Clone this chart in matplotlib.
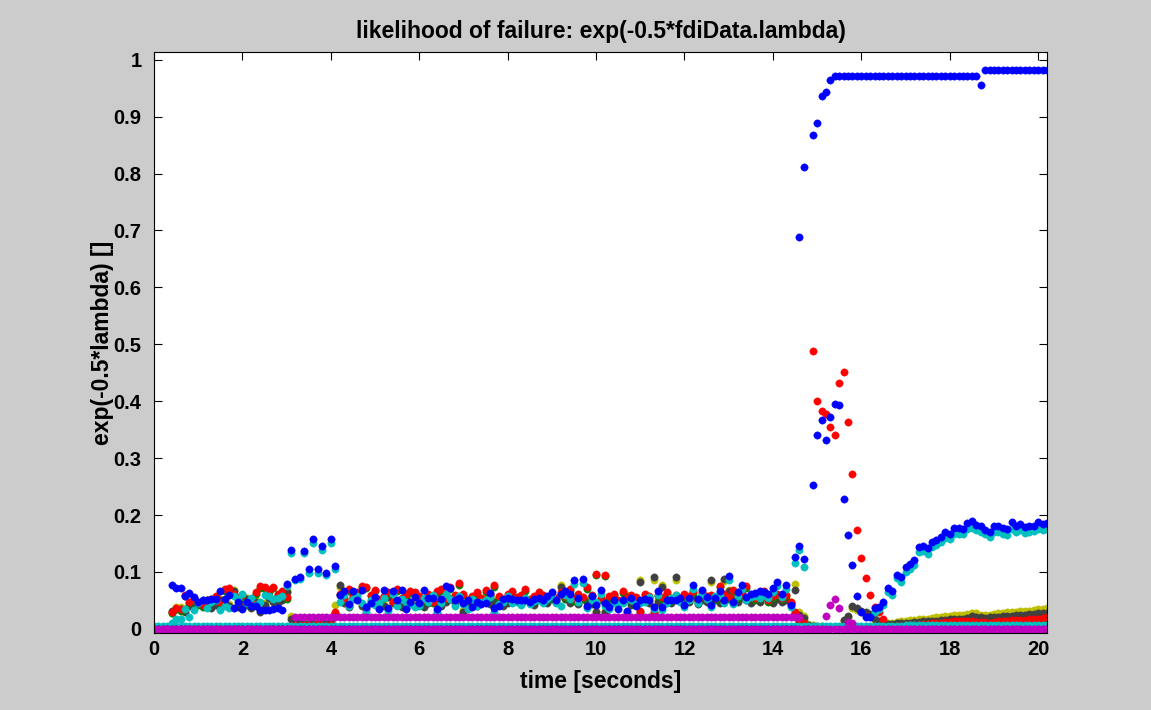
#!/usr/bin/env python3
"""
Likelihood of failure plot: exp(-0.5*lambda) for each FDI channel vs time.
Values read off the reference figure, stored in thousandths (0.077 -> 77).
"""

import numpy as np
import matplotlib
matplotlib.use("Agg")
import matplotlib.pyplot as plt

# === Data ===
# samples every 0.1 s from 0 to 20.2 s (203 samples)
N_SAMPLES = 203
SAMPLE_DT = 0.1

# top channel (goes to ~0.97 after the fault)
blue_top = [
    0, 0, 0, 0, 0, 0, 0, 0, 0, 0, 0, 0, 0, 0, 0, 0, 0, 0, 0, 0,
    0, 0, 0, 0, 0, 0, 0, 0, 0, 0, 0, 0, 0, 0, 0, 0, 0, 0, 0, 0,
    0, 0, 0, 0, 0, 0, 0, 0, 0, 0, 0, 0, 0, 0, 0, 0, 0, 0, 0, 0,
    0, 0, 0, 0, 0, 0, 0, 0, 0, 0, 0, 0, 0, 0, 0, 0, 0, 0, 0, 0,
    0, 0, 0, 0, 0, 0, 0, 0, 0, 0, 0, 0, 0, 0, 0, 0, 0, 0, 0, 0,
    0, 0, 0, 0, 0, 0, 0, 0, 0, 0, 0, 0, 0, 0, 0, 0, 0, 0, 0, 0,
    0, 0, 0, 0, 0, 0, 0, 0, 0, 0, 0, 0, 0, 0, 0, 0, 0, 0, 0, 0,
    0, 0, 0, 0, 0, 0,
    689, 812, 0, 867, 889, 937, 944, 965,
    972, 972, 972, 972, 972, 972, 972, 972, 972, 972, 972,
    972, 972, 972, 972, 972, 972, 972, 972, 972, 972, 972,
    972, 972, 972, 972, 972, 972, 972, 972, 972, 972, 972,
    956,
    982, 982, 982, 982, 982, 982, 982, 982, 982, 982, 982, 982, 982, 982, 982,
]

blue = [
    0, 0, 0, 0,
    77, 72, 72, 57, 63, 56, 48, 51, 51, 52, 52, 67, 52, 59, 36, 48, 35, 48, 40, 40,
    33, 33, 33, 35, 37, 33, 79,
    139, 88, 91, 137, 105, 158, 105, 146, 98, 158, 111,
    60, 66, 44, 66, 50, 69, 39, 45, 56, 35, 69, 37, 67, 50, 69, 35, 48, 56,
    46, 69, 54, 54, 35, 52, 76, 71, 51, 54, 46, 51, 39, 48, 44, 45, 63, 36, 40, 52,
    54, 52, 51, 50, 51, 48, 52, 54, 51, 57,
    64, 51, 62, 66, 62, 85, 54, 87, 40, 57, 42, 69, 45, 38, 51, 35, 51, 32, 54, 40,
    51, 52, 51, 38, 67, 38, 51, 51, 51,
    54, 42, 54, 77, 53, 69, 56, 42, 54, 66, 51, 92, 48, 64, 77, 56, 62, 63, 66, 64,
    62, 72, 82, 62, 77, 42, 127, 146, 122,
    0,
    252, 341, 367, 332, 373, 395, 393, 228, 165, 112, 57,
    30, 21, 21, 36, 39, 48, 71, 67, 95, 91, 108, 114, 121, 144, 145, 142, 153, 156,
    162, 170, 167, 177, 177, 176, 186, 190, 183, 181, 174, 171, 181, 181, 177, 176,
    187, 180, 185, 179, 180, 181, 187, 184, 186,
]

cyan = [
    0, 0, 0, 0,
    10, 17, 17, 35, 20, 33, 45, 50, 36, 48, 50, 33, 41, 36, 58, 52, 61, 46, 55, 42,
    48, 60, 58, 52, 54, 57, 75,
    133, 85, 88, 133, 98, 150, 98, 138, 94, 151, 106,
    48, 60, 40, 52, 58, 45, 30, 50, 42, 46, 55, 31, 62, 40, 52, 47, 44, 38,
    40, 55, 48, 60, 30, 45, 62, 52, 41, 58, 44, 35, 52, 40, 47, 50, 56, 30, 44, 48,
    58, 45, 47, 42, 55, 44, 49, 50, 46, 52,
    58, 45, 40, 60, 52, 78, 47, 80, 36, 50, 48, 62, 40, 34, 46, 43, 45, 30, 50, 44,
    46, 48, 56, 34, 60, 33, 45, 55, 60,
    48, 38, 50, 70, 45, 62, 52, 38, 58, 60, 46, 85, 44, 58, 70, 50, 56, 58, 55, 60,
    55, 65, 75, 56, 70, 38, 116, 139, 109,
    4, 4, 4, 4, 4, 4, 4, 4, 4, 4, 4, 4, 4, 4, 4,
    30, 34, 42, 64, 60, 89, 82, 100, 106, 113, 135, 137, 132, 143, 148, 152, 160,
    158, 166, 167, 166, 175, 178, 174, 171, 166, 162, 170, 170, 166, 165, 176, 170,
    173, 168, 170, 172, 176, 174, 176,
]

red = [
    0, 0, 0, 0,
    30, 37, 35, 60, 48, 55, 45, 42, 50, 52, 58, 48, 70, 72, 62, 55, 60, 45, 50, 65,
    75, 73, 68, 74, 62, 66, 56,
    5, 6, 5, 7, 6, 5, 8, 6, 5, 9, 30,
    62, 55, 70, 58, 65, 76, 74, 60, 69, 52, 58, 64, 48, 70, 55, 62, 66, 65,
    58, 52, 62, 48, 66, 70, 55, 73, 60, 80, 62, 50, 57, 64, 55, 68, 62, 77, 58, 50,
    62, 67, 56, 60, 70, 52, 58, 64, 60, 55,
    60, 55, 65, 58, 70, 52, 62, 56, 73, 60, 97, 55, 95, 58, 62, 50, 66, 55, 60, 56,
    32, 62, 58, 30, 60, 56, 64, 52, 60,
    55, 62, 58, 66, 50, 64, 58, 60, 54, 76, 62, 56, 68, 58, 62, 75, 60, 54, 58, 66,
    51, 58, 62, 55, 60, 48, 30,
    15, 10, 5,
    489, 400, 383, 378, 354, 341, 432, 452, 363, 272, 174, 124, 89, 59, 39, 29, 18,
    4, 4, 5, 5, 6, 6, 7, 7, 8, 9, 10, 11, 11, 12, 12, 13, 13, 13, 14, 13,
    12, 12, 12, 11, 12, 13, 13, 14, 15, 15, 16, 16, 17, 17, 18, 19, 20,
]

green = [
    0, 0, 0, 0,
    27, 34, 32, 57, 45, 52, 42, 39, 47, 49, 55, 45, 67, 69, 59, 52, 57, 42, 47, 62,
    72, 70, 65, 71, 59, 63, 53,
    3, 4, 3, 5, 4, 3, 6, 4, 3, 7, 27,
    59, 52, 67, 55, 62, 73, 71, 57, 66, 49, 55, 61, 45, 67, 52, 59, 63, 62,
    55, 49, 59, 45, 63, 67, 52, 70, 57, 77, 59, 47, 54, 61, 52, 65, 59, 74, 55, 47,
    59, 64, 53, 57, 67, 49, 55, 61, 57, 52,
    57, 52, 62, 55, 67, 49, 59, 53, 70, 57, 94, 52, 92, 55, 59, 47, 63, 52, 57, 53,
    29, 59, 55, 27, 57, 53, 61, 49, 57,
    52, 59, 55, 63, 47, 61, 55, 57, 51, 73, 59, 53, 65, 55, 59, 72, 57, 51, 55, 63,
    48, 55, 59, 52, 57, 45, 27,
    12, 8, 3,
    3, 3, 3, 3, 3, 3, 3, 3, 3, 3, 3, 3, 3, 3, 3, 3, 3,
    3, 3, 3, 4, 4, 4, 5, 5, 5, 6, 6, 6, 7, 7, 7, 7, 8, 8, 8, 8,
    8, 8, 8, 8, 8, 8, 9, 9, 9, 9, 10, 10, 10, 11, 11, 11, 12,
]

gray = [
    0, 0, 0, 0,
    32, 35, 35, 30, 40, 38, 44, 40, 47, 36, 42, 50, 45, 41, 66, 38, 44, 52, 36, 47,
    30, 42, 55, 48, 46, 50, 64,
    17, 13, 10, 9, 8, 8, 9, 8, 10, 12, 26,
    77, 45, 38, 55, 52, 40, 35, 48, 52, 44, 40, 56, 48, 46, 38, 52, 44, 40,
    42, 38, 46, 50, 44, 40, 48, 52, 45, 55, 30, 48, 52, 40, 46, 50, 44, 48, 52, 40,
    45, 48, 50, 44, 52, 46, 42, 62, 48, 45,
    52, 48, 74, 52, 46, 50, 44, 52, 48, 44, 29, 50, 29, 46, 52, 44, 48, 56, 42, 50,
    83, 52, 46, 91, 48, 74, 50, 46, 91,
    52, 46, 48, 56, 44, 50, 48, 86, 52, 46, 87, 66, 52, 48, 56, 50, 46, 52, 48, 58,
    50, 46, 52, 48, 50, 44, 69,
    25, 19, 6,
    5, 4, 4, 3, 3, 3, 3, 16, 23, 40, 37, 32, 29, 26, 17, 14, 10,
    9, 9, 10, 10, 11, 11, 12, 12, 13, 13, 14, 14, 15, 16, 17, 17, 18, 18, 19, 22,
    21, 20, 19, 20, 20, 21, 22, 23, 23, 24, 25, 25, 26, 26, 27, 27, 28,
]

olive = [
    0, 0, 0, 0,
    28, 38, 38, 33, 43, 41, 47, 43, 50, 39, 45, 53, 48, 44, 69, 41, 47, 55, 39, 50,
    33, 45, 58, 51, 49, 53, 67,
    22, 17, 14, 12, 12, 11, 12, 12, 13, 16, 42,
    74, 48, 42, 58, 55, 44, 38, 51, 55, 47, 43, 59, 51, 49, 41, 55, 47, 43,
    45, 41, 49, 53, 47, 43, 51, 55, 48, 58, 33, 51, 55, 43, 49, 53, 47, 51, 55, 43,
    48, 51, 53, 47, 55, 49, 45, 65, 51, 48,
    55, 51, 77, 55, 49, 53, 47, 55, 51, 47, 32, 53, 32, 49, 55, 47, 51, 59, 45, 53,
    86, 55, 49, 86, 51, 77, 53, 49, 86,
    55, 49, 51, 59, 47, 53, 51, 82, 55, 49, 84, 69, 55, 51, 59, 53, 49, 55, 51, 61,
    53, 49, 55, 51, 53, 47, 78,
    30, 22, 8,
    6, 5, 5, 4, 4, 4, 4, 14, 20, 36, 33, 29, 26, 23, 15, 12, 9,
    10, 11, 12, 13, 14, 15, 16, 17, 18, 18, 19, 20, 21, 22, 23, 24, 25, 25, 26, 28,
    27, 25, 24, 25, 26, 27, 28, 29, 29, 30, 31, 31, 32, 33, 34, 35, 36,
]

cyan_low = [
    5, 5, 5, 5, 5, 5, 5, 5, 5, 5, 5, 5, 5, 5, 5, 5, 5, 5, 5, 5,
    5, 5, 5, 5, 5, 5, 5, 5, 5, 5, 5, 5, 5, 5, 5, 5, 5, 5, 5, 5,
    5, 5, 5, 5, 5, 5, 5, 5, 5, 5, 5, 5, 5, 5, 5, 5, 5, 5, 5, 5,
    5, 5, 5, 5, 5, 5, 5, 5, 5, 5, 5, 5, 5, 5, 5, 5, 5, 5, 5, 5,
    5, 5, 5, 5, 5, 5, 5, 5, 5, 5, 5, 5, 5, 5, 5, 5, 5, 5, 5, 5,
    5, 5, 5, 5, 5, 5, 5, 5, 5, 5, 5, 5, 5, 5, 5, 5, 5, 5, 5, 5,
    5, 5, 5, 5, 5, 5, 5, 5, 5, 5, 5, 5, 5, 5, 5, 5, 5, 5, 5, 5,
    5, 5, 5, 5, 5, 5, 5, 5, 5, 5, 5, 5, 5, 5, 5, 5, 5, 5, 5, 5,
    5, 5, 5, 5, 5, 5, 5, 5, 5, 5,
    6, 6, 6, 6, 6, 6, 6, 6, 6, 6, 6, 6, 6, 6, 6, 6,
    7, 7, 7, 7, 7, 7, 7, 7, 7, 7, 7, 7, 7, 7, 7, 7, 7,
]

magenta_mid = [
    0, 0, 0, 0, 0, 0, 0, 0, 0, 0, 0, 0, 0, 0, 0, 0,
    0, 0, 0, 0, 0, 0, 0, 0, 0, 0, 0, 0, 0, 0, 0, 0,
    21, 21, 21, 21, 21, 21, 21, 21, 21, 21, 21, 21, 21, 21, 21, 21, 21, 21, 21, 21,
    21, 21, 21, 21, 21, 21, 21, 21, 21, 21, 21, 21, 21, 21, 21, 21, 21, 21, 21, 21,
    21, 21, 21, 21, 21, 21, 21, 21, 21, 21, 21, 21, 21, 21, 21, 21, 21, 21, 21, 21,
    21, 21, 21, 21, 21, 21, 21, 21, 21, 21, 21, 21, 21, 21, 21, 21, 21, 21, 21, 21,
    21, 21, 21, 21, 21, 21, 21, 21, 21, 21, 21, 21, 21, 21, 21, 21, 21, 21, 21, 21,
    21, 21, 21, 21, 21, 21, 21, 21, 21, 21, 21, 21, 21, 21, 21,
    0, 0, 0, 0, 0,
    22, 42, 52, 36, 0, 12, 11,
    0, 0, 0, 0, 0, 0, 0, 0, 0, 0, 0, 0, 0, 0, 0, 0, 0, 0, 0, 0, 0, 0,
    0, 0, 0, 0, 0, 0, 0, 0, 0, 0, 0, 0, 0, 0, 0, 0, 0, 0, 0, 0, 0, 0,
]

magenta_low = [
    0, 0, 0, 0, 0, 0, 0, 0, 0, 0, 0, 0, 0, 0, 0, 0, 0, 0, 0, 0,
    0, 0, 0, 0, 0, 0, 0, 0, 0, 0, 0, 0, 0, 0, 0, 0, 0, 0, 0, 0,
    0, 0, 0, 0, 0, 0, 0, 0, 0, 0, 0, 0, 0, 0, 0, 0, 0, 0, 0, 0,
    0, 0, 0, 0, 0, 0, 0, 0, 0, 0, 0, 0, 0, 0, 0, 0, 0, 0, 0, 0,
    0, 0, 0, 0, 0, 0, 0, 0, 0, 0, 0, 0, 0, 0, 0, 0, 0, 0, 0, 0,
    0, 0, 0, 0, 0, 0, 0, 0, 0, 0, 0, 0, 0, 0, 0, 0, 0, 0, 0, 0,
    0, 0, 0, 0, 0, 0, 0, 0, 0, 0, 0, 0, 0, 0, 0, 0, 0, 0, 0, 0,
    0, 0, 0, 0, 0, 0, 0, 0, 0, 0, 0, 0, 0, 0, 0, 0, 0, 0, 0, 0,
    0, 0, 0, 0, 0, 0, 0, 0, 0, 0, 0, 0, 0, 0, 0, 0, 0, 0, 0, 0,
    0, 0, 0, 0, 0, 0, 0, 0, 0, 0, 0, 0, 0, 0, 0, 0, 0, 0, 0, 0,
    0, 0, 0,
]

# old MATLAB ColorOrder
C_BLUE = (0, 0, 1)
C_GREEN = (0, 0.5, 0)
C_RED = (1, 0, 0)
C_CYAN = (0, 0.75, 0.75)
C_MAGENTA = (0.75, 0, 0.75)
C_OLIVE = (0.75, 0.75, 0)
C_GRAY = (0.25, 0.25, 0.25)

FIG_BG = "#cccccc"
FONT = "Liberation Sans"
FS_TICK = 14.5
FS_LABEL = 16.5


def main():
    time_s = np.round(np.arange(N_SAMPLES) * SAMPLE_DT, 1)

    # drawing order: first = bottom
    series = [
        (olive, C_OLIVE),
        (gray, C_GRAY),
        (green, C_GREEN),
        (red, C_RED),
        (cyan, C_CYAN),
        (blue, C_BLUE),
        (cyan_low, C_CYAN),
        (blue_top, C_BLUE),
        (magenta_mid, C_MAGENTA),
        (magenta_low, C_MAGENTA),
    ]
    for vals, _ in series:
        assert len(vals) == N_SAMPLES, len(vals)

    plt.rcParams["font.family"] = [FONT, "DejaVu Sans"]
    plt.rcParams["font.weight"] = "bold"

    fig = plt.figure(figsize=(11.51, 7.10), dpi=100, facecolor=FIG_BG)
    ax = fig.add_axes([154 / 1151, 1 - 633 / 710, (1047 - 154) / 1151, (633 - 52) / 710])
    ax.set_facecolor("white")

    for vals, col in series:
        ax.plot(time_s, np.array(vals) / 1000.0, "o", ms=5.3, mfc=col, mec=col,
                mew=0.3)

    ax.set_xlim(0, 20.2)
    ax.set_ylim(-0.0073, 1.0135)
    ax.set_xticks(np.arange(0, 21, 2))
    ax.set_yticks(np.arange(0, 1.01, 0.1))
    ax.set_yticklabels(["0", "0.1", "0.2", "0.3", "0.4", "0.5", "0.6", "0.7",
                        "0.8", "0.9", "1"])
    ax.tick_params(direction="in", top=True, right=True, length=5.5, width=0.8,
                   labelsize=FS_TICK)
    ax.tick_params(axis="y", pad=9)
    ax.tick_params(axis="x", pad=5)
    for lab in ax.get_xticklabels() + ax.get_yticklabels():
        lab.set_fontweight("bold")
    for sp in ax.spines.values():
        sp.set_linewidth(0.8)
        sp.set_color("black")

    ax.set_title("likelihood of failure: exp(-0.5*fdiData.lambda)", fontsize=FS_LABEL,
                 fontweight="bold", pad=10)
    ax.set_xlabel("time [seconds]", fontsize=FS_LABEL, fontweight="bold", labelpad=8)
    ax.set_ylabel("exp(-0.5*lambda) []", fontsize=FS_LABEL, fontweight="bold",
                  labelpad=0)

    fig.savefig("out.png", dpi=100, facecolor=FIG_BG)


if __name__ == "__main__":
    main()
